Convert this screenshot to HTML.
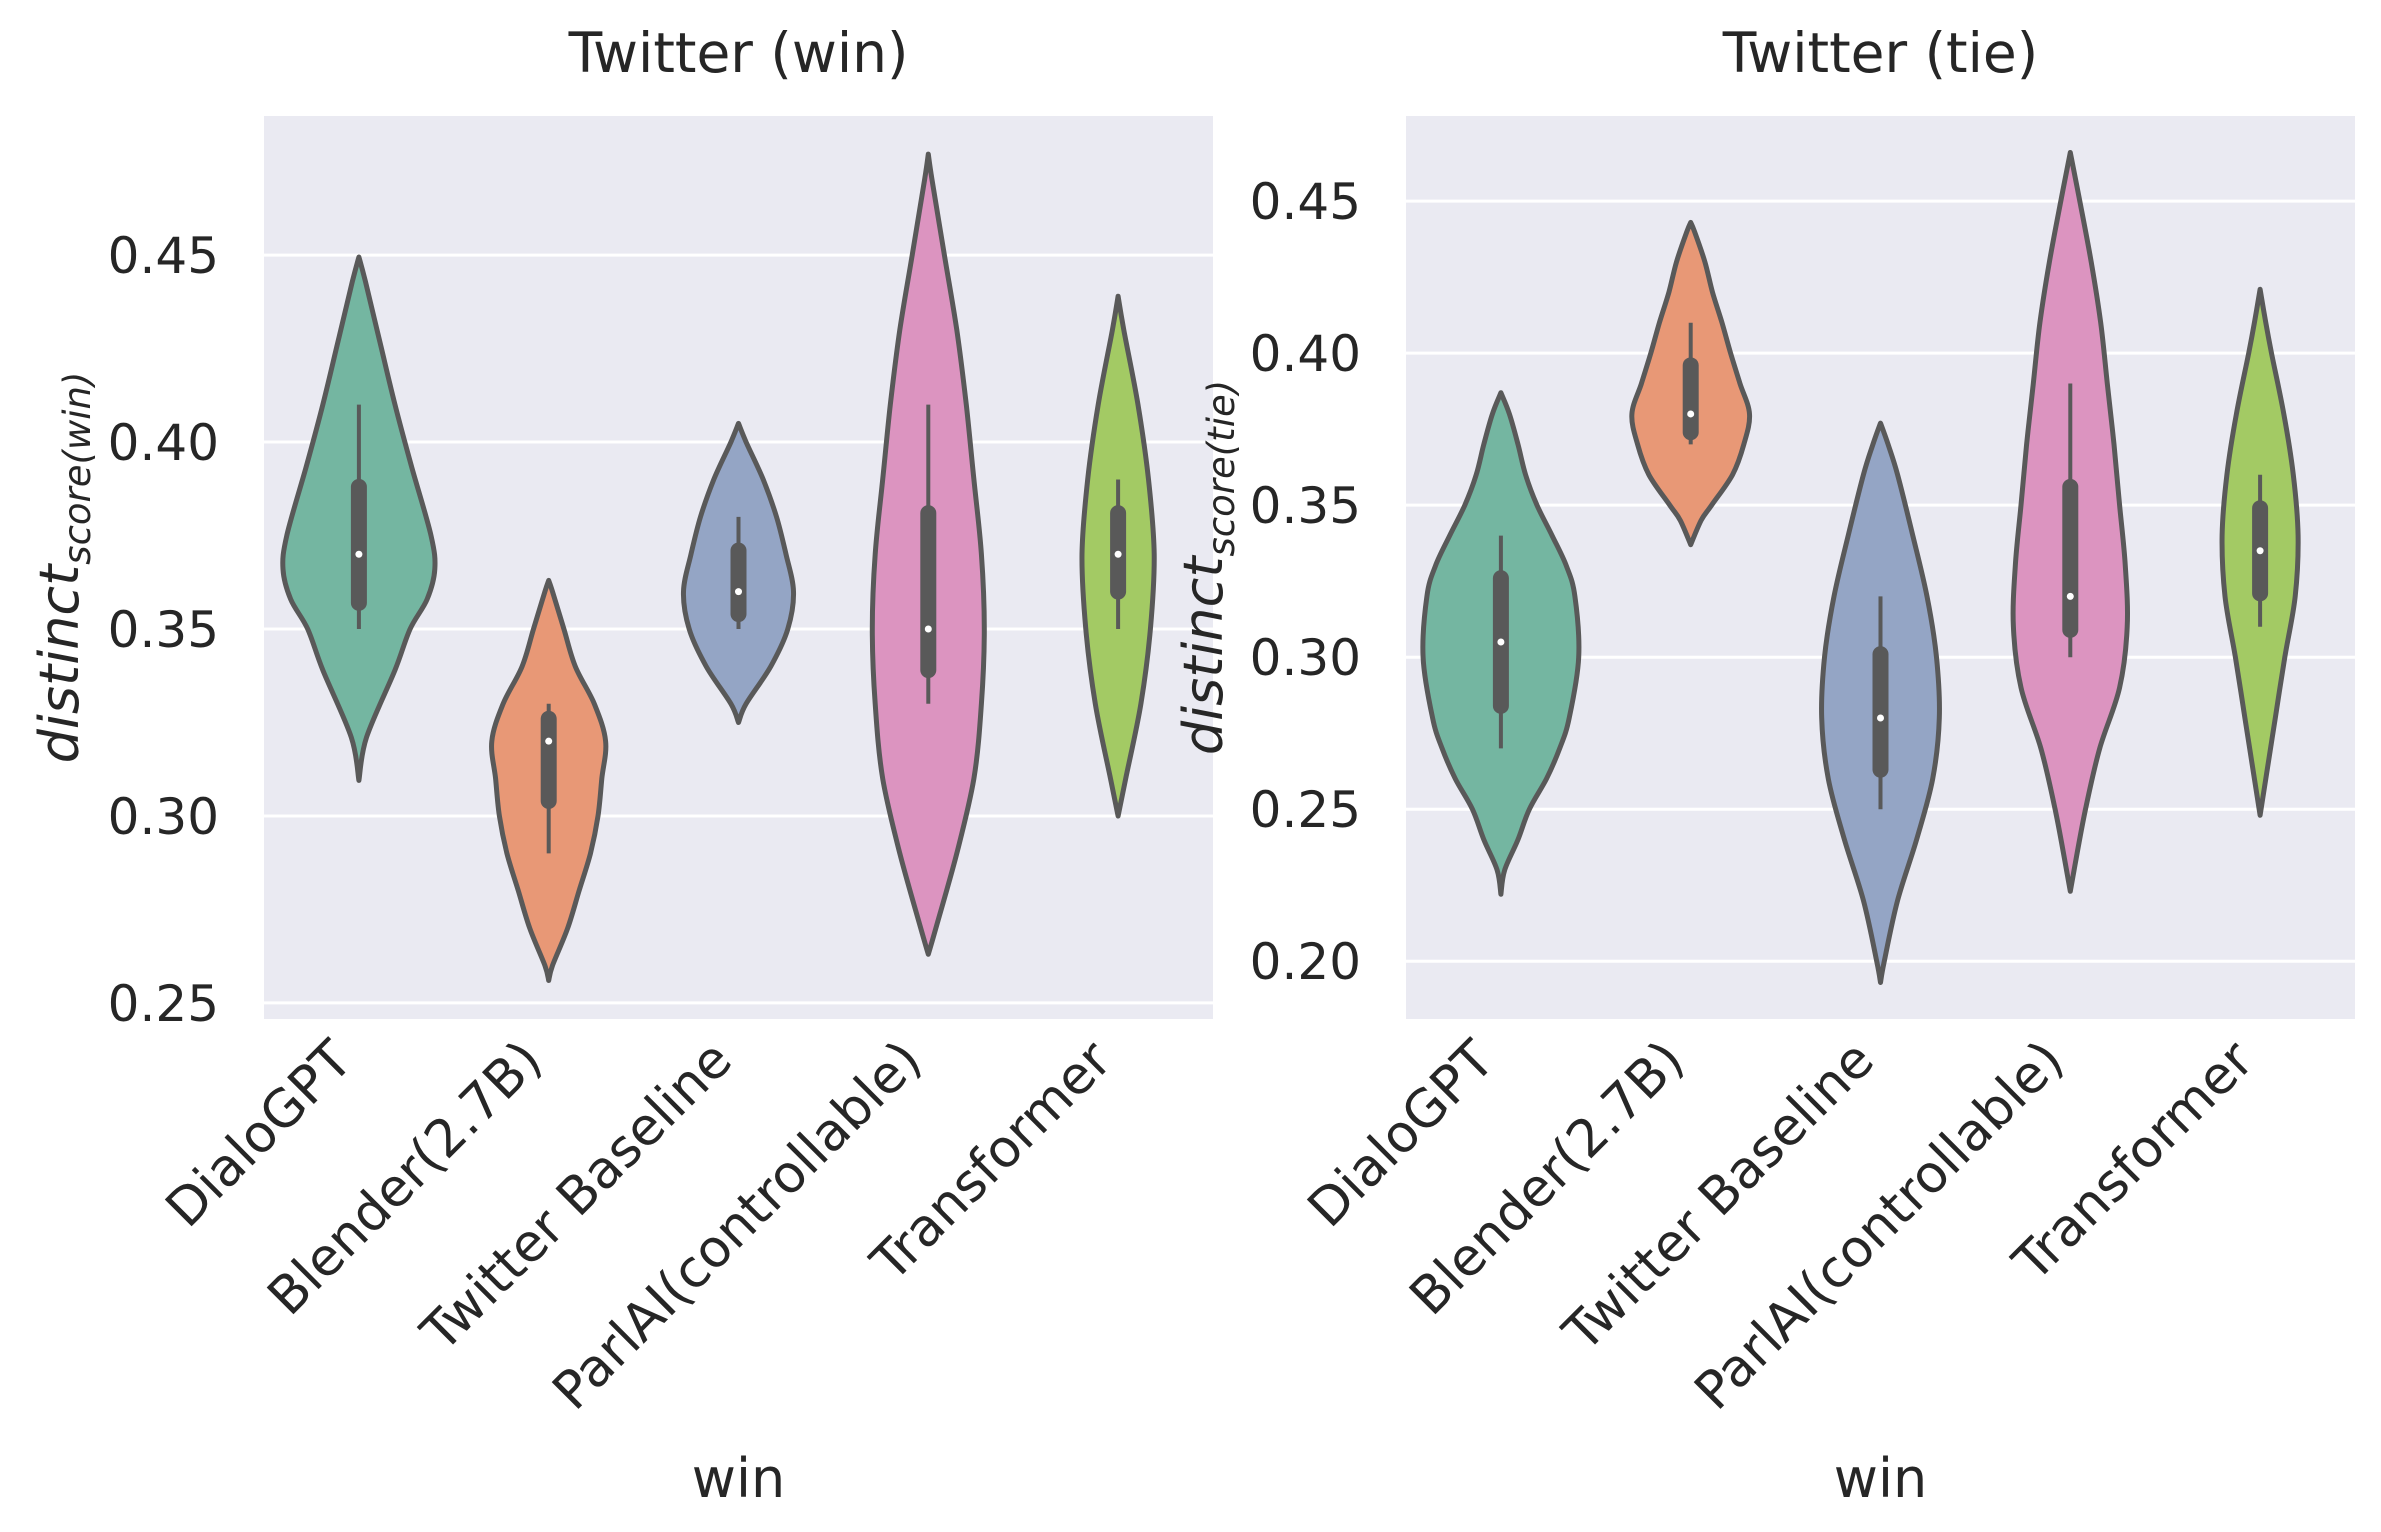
<!DOCTYPE html>
<html><head><meta charset="utf-8"><style>
html,body{margin:0;padding:0;background:#fff}
svg{display:block;font-family:"DejaVu Sans","Liberation Sans",sans-serif}
</style></head><body>
<svg id="fig" width="2381" height="1532" viewBox="0 0 2381 1532" xmlns="http://www.w3.org/2000/svg"></svg>
<script>
const categories = ["DialoGPT","Blender(2.7B)","Twitter Baseline","ParlAI(controllable)","Transformer"];
const colors = ["#74b6a1","#e89876","#94a5c5","#dc94c0","#a3ca64"];
const leftTicks = [0.25,0.30,0.35,0.40,0.45];
const rightTicks = [0.20,0.25,0.30,0.35,0.40,0.45];
const winVals = [
 [0.3095,0.321,0.339,0.35,0.358,0.366,0.375,0.393,0.41,0.428,0.443,0.4495],
 [0.256,0.26,0.27,0.28,0.29,0.30,0.31,0.32,0.33,0.34,0.35,0.36,0.363],
 [0.325,0.33,0.34,0.35,0.36,0.37,0.38,0.39,0.40,0.405],
 [0.263,0.27,0.29,0.31,0.33,0.35,0.37,0.39,0.41,0.43,0.45,0.47,0.477],
 [0.300,0.31,0.33,0.35,0.37,0.39,0.41,0.43,0.439]
];
const winWidths = [
 [0,0.04,0.19,0.27,0.36,0.40,0.38,0.28,0.19,0.105,0.034,0],
 [0,0.02,0.10,0.16,0.22,0.26,0.28,0.30,0.24,0.14,0.08,0.02,0],
 [0,0.04,0.17,0.26,0.29,0.25,0.20,0.13,0.04,0],
 [0,0.04,0.15,0.24,0.28,0.295,0.28,0.24,0.20,0.15,0.085,0.02,0],
 [0,0.04,0.12,0.17,0.19,0.16,0.105,0.03,0]
];
const winBox = [
 [0.35,0.357,0.37,0.388,0.41],
 [0.29,0.304,0.32,0.326,0.33],
 [0.35,0.354,0.36,0.371,0.38],
 [0.33,0.339,0.35,0.381,0.41],
 [0.35,0.36,0.37,0.381,0.39]
];
const tieVals = [
 [0.222,0.23,0.24,0.25,0.26,0.27,0.28,0.30,0.32,0.33,0.34,0.35,0.36,0.37,0.38,0.387],
 [0.337,0.345,0.35,0.36,0.37,0.38,0.39,0.40,0.41,0.42,0.43,0.44,0.443],
 [0.193,0.20,0.22,0.24,0.26,0.28,0.30,0.32,0.34,0.36,0.37,0.377],
 [0.223,0.23,0.25,0.27,0.29,0.31,0.33,0.35,0.37,0.39,0.41,0.43,0.45,0.466],
 [0.248,0.26,0.28,0.30,0.32,0.34,0.36,0.38,0.40,0.41,0.421]
];
const tieWidths = [
 [0,0.02,0.09,0.15,0.24,0.31,0.36,0.41,0.39,0.345,0.27,0.19,0.13,0.09,0.045,0],
 [0,0.055,0.11,0.22,0.28,0.31,0.26,0.21,0.165,0.115,0.075,0.02,0],
 [0,0.02,0.09,0.19,0.275,0.31,0.295,0.245,0.17,0.09,0.04,0],
 [0,0.02,0.08,0.155,0.26,0.30,0.29,0.26,0.23,0.195,0.16,0.11,0.05,0],
 [0,0.03,0.08,0.13,0.185,0.20,0.175,0.125,0.06,0.03,0]
];
const tieBox = [
 [0.27,0.284,0.305,0.326,0.34],
 [0.37,0.374,0.38,0.396,0.41],
 [0.25,0.263,0.28,0.301,0.32],
 [0.30,0.309,0.32,0.356,0.39],
 [0.31,0.321,0.335,0.349,0.36]
];

const NS="http://www.w3.org/2000/svg";
const svg=document.getElementById('fig');
function mk(tag,attrs,parent){const e=document.createElementNS(NS,tag);for(const k in attrs)e.setAttribute(k,attrs[k]);(parent||svg).appendChild(e);return e;}

function catmull(pts){
  let d="M"+pts[0][0].toFixed(1)+","+pts[0][1].toFixed(1);
  for(let i=0;i<pts.length-1;i++){
    const p0=pts[Math.max(i-1,0)],p1=pts[i],p2=pts[i+1],p3=pts[Math.min(i+2,pts.length-1)];
    const c1=[p1[0]+(p2[0]-p0[0])/6,p1[1]+(p2[1]-p0[1])/6];
    const c2=[p2[0]-(p3[0]-p1[0])/6,p2[1]-(p3[1]-p1[1])/6];
    d+=" C"+c1[0].toFixed(1)+","+c1[1].toFixed(1)+" "+c2[0].toFixed(1)+","+c2[1].toFixed(1)+" "+p2[0].toFixed(1)+","+p2[1].toFixed(1);
  }
  return d;
}

function panel(cfg){
  const {x0,x1,y0,y1,vmin,vmax,ticks,title,sub,vals,widths,box,labelX,key}=cfg;
  const g=mk('g',{});
  
  
  const yS=v=>y1-(v-vmin)/(vmax-vmin)*(y1-y0);
  const step=(x1-x0)/categories.length;
  const xS=i=>x0+step*(i+0.5);
  const bg=mk('rect',{x:x0,y:y0,width:x1-x0,height:y1-y0,fill:'#eaeaf2'},g);
  
  
  ticks.forEach(t=>{
    const l=mk('line',{x1:x0,x2:x1,y1:yS(t),y2:yS(t),stroke:'#fff','stroke-width':3},g);
    
    
    const tx=mk('text',{x:x0-45,y:yS(t)+18,'text-anchor':'end','font-size':50,fill:'#262626'},g);
    tx.textContent=t.toFixed(2);
    
    
  });
  categories.forEach((c,i)=>{
    const cx=xS(i);
    const right=vals[i].map((v,j)=>[cx+widths[i][j]*step,yS(v)]);
    const left=vals[i].map((v,j)=>[cx-widths[i][j]*step,yS(v)]).reverse();
    const d=catmull(right)+" "+catmull(left).replace(/^M/,"L")+" Z";
    const p=mk('path',{d:d,fill:colors[i],stroke:'#595959','stroke-width':5,'stroke-linejoin':'round'},g);
    
    
    const b=box[i];
    const w=mk('line',{x1:cx,x2:cx,y1:yS(b[0]),y2:yS(b[4]),stroke:'#595959','stroke-width':4},g);
    
    
    const q=mk('line',{x1:cx,x2:cx,y1:yS(b[1]),y2:yS(b[3]),stroke:'#595959','stroke-width':16,'stroke-linecap':'round'},g);
    
    
    const m=mk('circle',{cx:cx,cy:yS(b[2]),r:3.5,fill:'#fff'},g);
    
    
    const ax=cx-4, ay=y1+44;
    const xt=mk('text',{x:ax,y:ay,'text-anchor':'end','font-size':52,fill:'#262626',transform:`rotate(-45 ${ax} ${ay})`},g);
    xt.textContent=c;
    
    
  });
  const tt=mk('text',{x:(x0+x1)/2,y:72,'text-anchor':'middle','font-size':55,fill:'#262626'},g);
  tt.textContent=title;
  
  
  const xl=mk('text',{x:(x0+x1)/2,y:1497,'text-anchor':'middle','font-size':54,fill:'#262626'},g);
  xl.textContent='win';
  
  
  const cy=(y0+y1)/2;
  const yl=mk('text',{x:labelX,y:cy,'text-anchor':'middle','font-size':54,fill:'#262626',transform:`rotate(-90 ${labelX} ${cy})`},g);
  
  
  const t1=mk('tspan',{'font-style':'italic'},yl);t1.textContent='distinct';
  const t2=mk('tspan',{'font-style':'italic','font-size':37,dy:12},yl);t2.textContent=sub;
}

panel({x0:264,x1:1213,y0:116,y1:1019,vmin:0.2457,vmax:0.4872,ticks:leftTicks,title:'Twitter (win)',sub:'score(win)',vals:winVals,widths:winWidths,box:winBox,labelX:78,key:'win'});
panel({x0:1406,x1:2355,y0:116,y1:1019,vmin:0.181,vmax:0.478,ticks:rightTicks,title:'Twitter (tie)',sub:'score(tie)',vals:tieVals,widths:tieWidths,box:tieBox,labelX:1222,key:'tie'});
</script>
</body></html>
